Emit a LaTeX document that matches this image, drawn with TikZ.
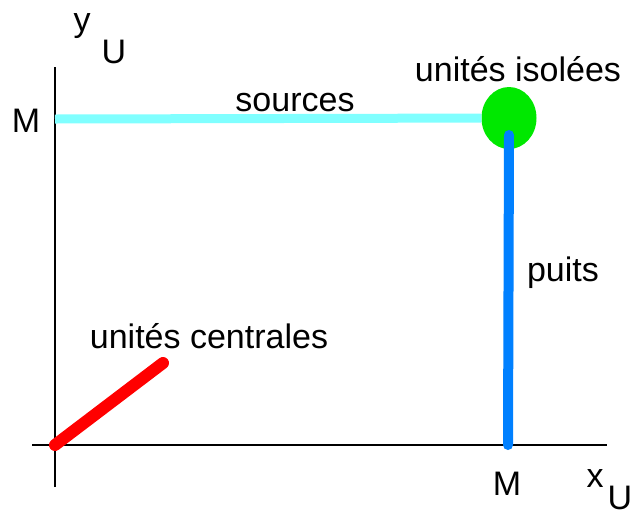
\documentclass[tikz,border=0pt]{standalone}
\usepackage{fontspec}
\setmainfont{Liberation Sans}
\usepackage{tikz}
\usetikzlibrary{shapes.geometric}
\definecolor{srccyan}{RGB}{128,255,255}
\definecolor{isogreen}{RGB}{0,232,0}
\definecolor{sinkblue}{RGB}{0,128,255}
\definecolor{centred}{RGB}{255,0,0}
\tikzset{
  axisline/.style={draw=black, line width=1.8pt},
  lbl/.style={anchor=base, inner sep=0pt, font=\fontsize{34}{40}\selectfont},
  sourceline/.style={draw=srccyan, line width=9pt},
  sinkline/.style={draw=sinkblue, line width=10pt, line cap=round},
  centreline/.style={draw=centred, line width=12pt, line cap=round},
  isoblob/.style={ellipse, fill=isogreen, minimum width=55pt, minimum height=62pt, inner sep=0pt},
}

\begin{document}
\begin{tikzpicture}[x=1pt, y=-1pt]
  \useasboundingbox (0,0) rectangle (635,515);

  % axes
  \coordinate (O) at (55,445);
  \coordinate (ytop) at (55,67);
  \coordinate (ybot) at (55,487);
  \coordinate (xleft) at (32,445);
  \coordinate (xright) at (607,445);
  \draw[axisline] (ybot) -- (ytop);
  \draw[axisline] (xleft) -- (xright);

  \coordinate (Mtick) at (55,119);
  \coordinate (Mfoot) at (508,445);
  \coordinate (cend) at (163,363);

  \node[isoblob] (iso) at (509,118) {};

  \draw[sourceline] (Mtick) -- (iso);
  \draw[sinkline] (Mfoot) -- ([yshift=-17pt]iso.center);
  \draw[centreline] (O) -- (cend);

  % labels
  \node[lbl] (ylab) at (82,31) {y};
  \node[lbl] (yU) at (114,63) {U};
  \node[lbl] (Mleft) at (26,132) {M};
  \node[lbl] (src) at (295,111) {sources};
  \node[lbl] (isolab) at (518,81) {unités isolées};
  \node[lbl] (puits) at (563,281) {puits};
  \node[lbl] (central) at (209,348) {unités centrales};
  \node[lbl] (Mbot) at (507,495) {M};
  \node[lbl] (xlab) at (595,487) {x};
  \node[lbl] (xU) at (620,509) {U};
\end{tikzpicture}
\end{document}
